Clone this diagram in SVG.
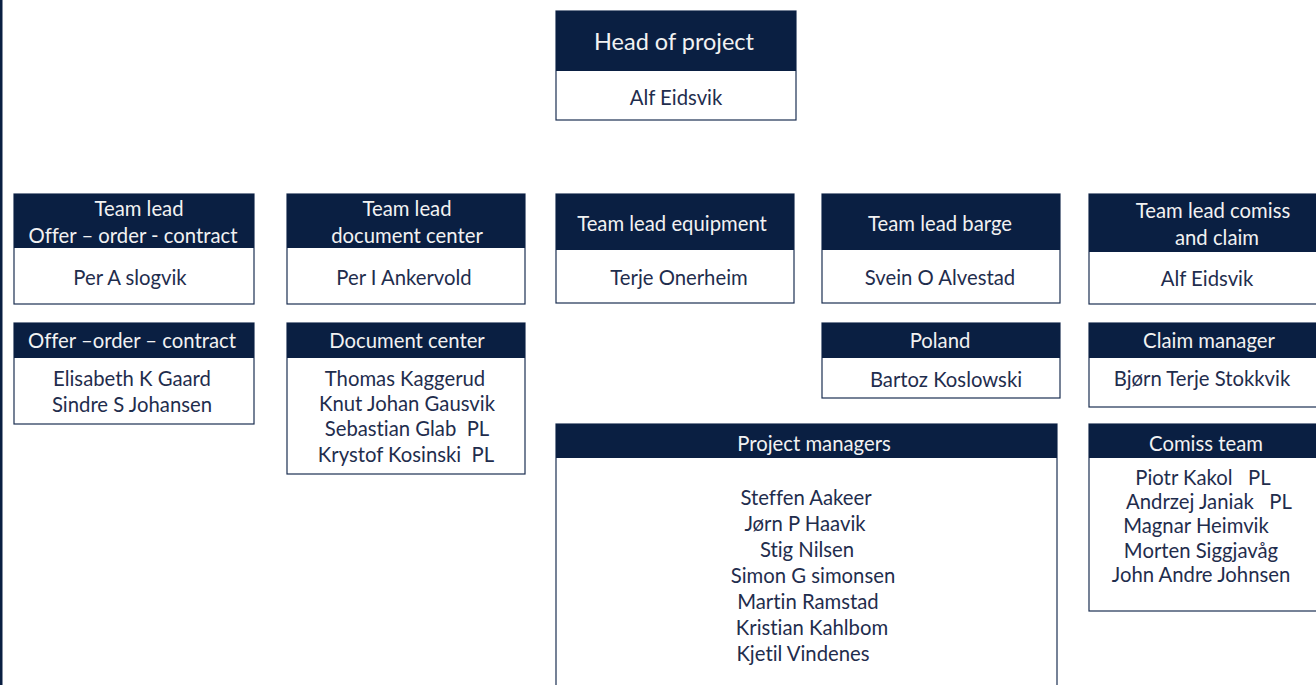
<svg xmlns="http://www.w3.org/2000/svg" width="1316" height="685" viewBox="0 0 1316 685">
<style>
.hd{fill:#0a1f42;}
.box{fill:#ffffff;stroke:#1c2f52;stroke-width:1.2;}
text{font-family:Lato,"Liberation Sans",sans-serif;font-size:20.3px;text-anchor:middle;dominant-baseline:central;font-variant-ligatures:none;}
.ht{fill:#f2f2f2;}
.bt{fill:#1f2d4d;}
.big{font-size:23.5px;}
</style>
<rect x="0" y="0" width="1316" height="685" fill="#ffffff"/>
<rect x="0" y="0" width="2.5" height="685" fill="#0a1f42"/>
<g id="connectors"></g>
<g id="head">
<rect class="box" x="556" y="11" width="240" height="109"/>
<rect class="hd" x="556" y="11" width="240" height="60"/>
<text class="ht big" x="674" y="41">Head of project</text>
<text class="bt" x="676" y="97">Alf Eidsvik</text>
</g>
<g id="tl-offer">
<rect class="box" x="14" y="194" width="240" height="110"/>
<rect class="hd" x="14" y="194" width="240" height="54"/>
<text class="ht" x="139" y="208">Team lead</text>
<text class="ht" x="133" y="235">Offer – order - contract</text>
<text class="bt" x="130" y="277">Per A slogvik</text>
</g>
<g id="offer">
<rect class="box" x="14" y="323" width="240" height="101"/>
<rect class="hd" x="14" y="323" width="240" height="35"/>
<text class="ht" x="132" y="340">Offer –order – contract</text>
<text class="bt" x="132" y="378">Elisabeth K Gaard</text>
<text class="bt" x="132" y="404">Sindre S Johansen</text>
</g>
<g id="tl-doc">
<rect class="box" x="287" y="194" width="238" height="110"/>
<rect class="hd" x="287" y="194" width="238" height="54"/>
<text class="ht" x="407" y="208">Team lead</text>
<text class="ht" x="407" y="235">document center</text>
<text class="bt" x="404" y="277">Per I Ankervold</text>
</g>
<g id="doc">
<rect class="box" x="287" y="323" width="238" height="151"/>
<rect class="hd" x="287" y="323" width="238" height="35"/>
<text class="ht" x="407" y="340">Document center</text>
<text class="bt" x="405" y="378">Thomas Kaggerud</text>
<text class="bt" x="407" y="403">Knut Johan Gausvik</text>
<text class="bt" x="407" y="428" xml:space="preserve">Sebastian Glab  PL</text>
<text class="bt" x="406" y="454" xml:space="preserve">Krystof Kosinski  PL</text>
</g>
<g id="tl-equipment">
<rect class="box" x="556" y="194" width="238" height="109"/>
<rect class="hd" x="556" y="194" width="238" height="56"/>
<text class="ht" x="672" y="223">Team lead equipment</text>
<text class="bt" x="679" y="277">Terje Onerheim</text>
</g>
<g id="tl-barge">
<rect class="box" x="822" y="194" width="238" height="109"/>
<rect class="hd" x="822" y="194" width="238" height="56"/>
<text class="ht" x="940" y="223">Team lead barge</text>
<text class="bt" x="940" y="277">Svein O Alvestad</text>
</g>
<g id="poland">
<rect class="box" x="822" y="323" width="238" height="75"/>
<rect class="hd" x="822" y="323" width="238" height="35"/>
<text class="ht" x="940" y="340">Poland</text>
<text class="bt" x="946" y="379">Bartoz Koslowski</text>
</g>
<g id="tl-comiss">
<rect class="box" x="1089" y="194" width="240" height="110"/>
<rect class="hd" x="1089" y="194" width="240" height="58"/>
<text class="ht" x="1213" y="210">Team lead comiss</text>
<text class="ht" x="1217" y="237">and claim</text>
<text class="bt" x="1207" y="278">Alf Eidsvik</text>
</g>
<g id="claim">
<rect class="box" x="1089" y="323" width="240" height="84"/>
<rect class="hd" x="1089" y="323" width="240" height="35"/>
<text class="ht" x="1209" y="340">Claim manager</text>
<text class="bt" x="1202" y="378">Bjørn Terje Stokkvik</text>
</g>
<g id="comiss-team">
<rect class="box" x="1089" y="424" width="240" height="187"/>
<rect class="hd" x="1089" y="424" width="240" height="34"/>
<text class="ht" x="1206" y="443">Comiss team</text>
<text class="bt" x="1203" y="477" xml:space="preserve">Piotr Kakol   PL</text>
<text class="bt" x="1209" y="501" xml:space="preserve">Andrzej Janiak   PL</text>
<text class="bt" x="1196" y="525">Magnar Heimvik</text>
<text class="bt" x="1201" y="550">Morten Siggjavåg</text>
<text class="bt" x="1201" y="574">John Andre Johnsen</text>
</g>
<g id="project-managers">
<rect class="box" x="556" y="424" width="501" height="280"/>
<rect class="hd" x="556" y="424" width="501" height="34"/>
<text class="ht" x="814" y="443">Project managers</text>
<text class="bt" x="806" y="497">Steffen Aakeer</text>
<text class="bt" x="805" y="523">Jørn P Haavik</text>
<text class="bt" x="807" y="549">Stig Nilsen</text>
<text class="bt" x="813" y="575">Simon G simonsen</text>
<text class="bt" x="808" y="601">Martin Ramstad</text>
<text class="bt" x="812" y="627">Kristian Kahlbom</text>
<text class="bt" x="803" y="653">Kjetil Vindenes</text>
</g>
</svg>
